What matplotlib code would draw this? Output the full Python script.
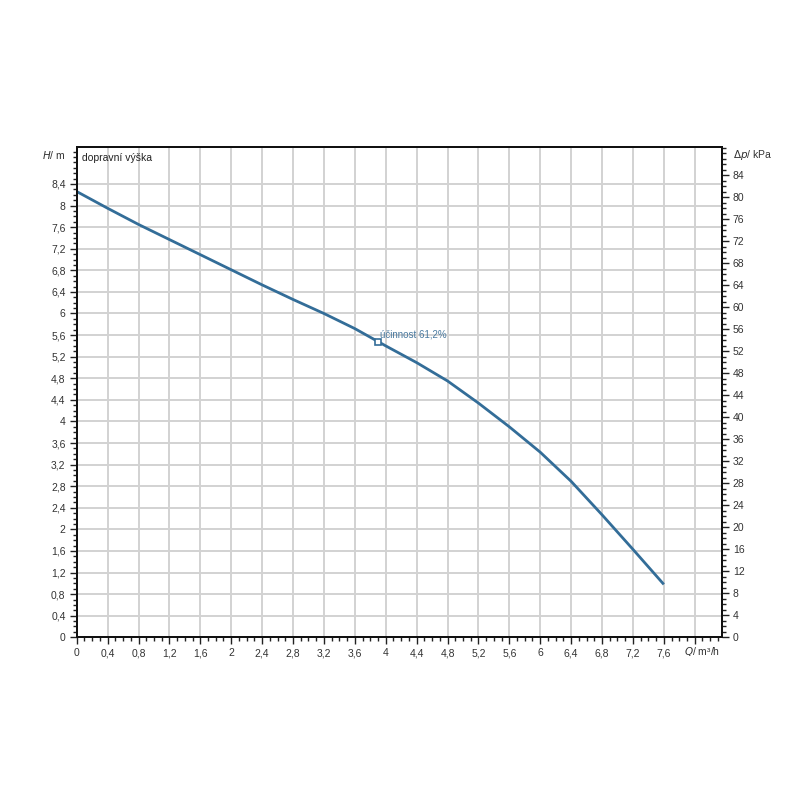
import matplotlib

matplotlib.use("Agg")
import matplotlib.pyplot as plt
from matplotlib.ticker import FixedLocator, FuncFormatter, MultipleLocator

plt.rcParams["font.family"] = ["Liberation Sans", "DejaVu Sans"]

# Pump curve: flow Q (m³/h) vs head H (m)
flow = [0.0, 0.4, 0.8, 1.2, 1.6, 2.0, 2.4, 2.8, 3.2, 3.6, 3.9, 4.0,
        4.4, 4.8, 5.2, 5.6, 6.0, 6.4, 6.8, 7.2, 7.6]
head = [8.26, 7.95, 7.65, 7.37, 7.09, 6.81, 6.53, 6.26, 6.00, 5.72, 5.48, 5.40,
        5.09, 4.75, 4.34, 3.90, 3.43, 2.89, 2.27, 1.63, 0.98]
point_q = 3.9
point_h = 5.48
point_label = "účinnost 61,2%"

M_TO_KPA = 9.80665
X_MAX = 8.35
Y_MAX = 9.08

LINE = "#336d98"
GRID = "#d2d2d2"
TEXT = "#333333"


def comma(value, _pos):
    text = f"{value:.1f}".rstrip("0").rstrip(".")
    return text.replace(".", ",")


fig = plt.figure(figsize=(8, 8), dpi=100)
ax = fig.add_axes([0.0959, 0.2034, 0.8063, 0.6125])

ax.plot(flow, head, color=LINE, linewidth=2.0, zorder=3,
        solid_joinstyle="round", solid_capstyle="butt")
ax.plot([point_q], [point_h], marker="s", markersize=4.5, markerfacecolor="white",
        markeredgecolor=LINE, markeredgewidth=1.2, zorder=4)
ax.text(point_q + 0.03, point_h + 0.04, point_label, color="#4a7aa0",
        fontsize=7, va="bottom", ha="left", zorder=4)

ax.set_xlim(0, X_MAX)
ax.set_ylim(0, Y_MAX)

x_major = [round(0.4 * i, 1) for i in range(21)]
y_major = [round(0.4 * i, 1) for i in range(22)]
ax.xaxis.set_major_locator(FixedLocator(x_major))
ax.yaxis.set_major_locator(FixedLocator(y_major))
ax.xaxis.set_minor_locator(MultipleLocator(0.1))
ax.yaxis.set_minor_locator(MultipleLocator(0.1))
ax.xaxis.set_major_formatter(FuncFormatter(lambda v, p: "" if v > 7.7 else comma(v, p)))
ax.yaxis.set_major_formatter(FuncFormatter(comma))

ax.grid(True, which="major", color=GRID, linewidth=1.4, zorder=0)
ax.tick_params(which="major", direction="out", length=5, width=1, colors="#222222",
               labelsize=7.5, labelcolor=TEXT, pad=3)
ax.tick_params(which="minor", direction="out", length=3, width=1, colors="#222222")
for spine in ax.spines.values():
    spine.set_color("#111111")
    spine.set_linewidth(1.4)

# Secondary pressure axis
ax2 = ax.twinx()
ax2.set_ylim(0, Y_MAX * M_TO_KPA)
ax2.yaxis.set_major_locator(FixedLocator(list(range(0, 85, 4))))
ax2.yaxis.set_minor_locator(MultipleLocator(1))
ax2.tick_params(which="major", direction="out", length=5, width=1, colors="#222222",
                labelsize=7.5, labelcolor=TEXT, pad=3)
ax2.tick_params(which="minor", direction="out", length=3, width=1, colors="#222222")
for spine in ax2.spines.values():
    spine.set_color("#111111")
    spine.set_linewidth(1.4)

# Axis captions placed at the ends of the scales
ax.text(-0.14, 8.93, "$H$/ m", fontsize=7.5, color=TEXT, ha="right", va="center")
ax.text(X_MAX + 0.14, 8.93, "$\\Delta p$/ kPa", fontsize=7.5, color=TEXT, ha="left", va="center")
ax.text(8.10, -0.27, "$Q$/ m³/h", fontsize=7.5, color=TEXT, ha="center", va="center")
ax.text(0.07, 8.88, "dopravní výška", fontsize=7.5, color="#222222", ha="left", va="center")

fig.savefig("out.png", dpi=100)
plt.close(fig)
